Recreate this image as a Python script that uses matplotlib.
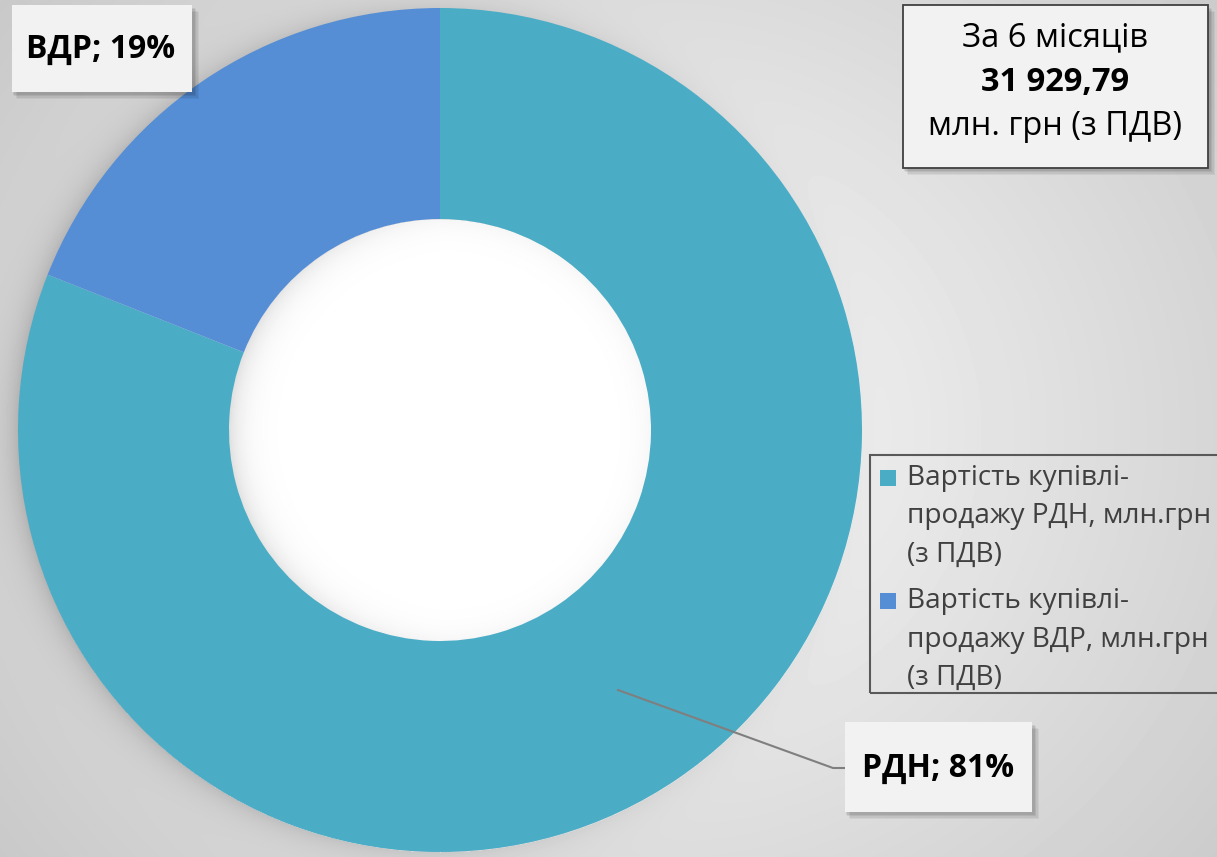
import numpy as np
import matplotlib
matplotlib.use('Agg')
import matplotlib.pyplot as plt
from matplotlib.patches import Rectangle

plt.rcParams['font.family'] = ['Open Sans', 'DejaVu Sans']

# ---- data ----
categories = ['РДН', 'ВДР']
shares = [81, 19]
legend_lines = [['Вартість купівлі-', 'продажу РДН, млн.грн', '(з ПДВ)'],
                ['Вартість купівлі-', 'продажу ВДР, млн.грн', '(з ПДВ)']]
colors = ['#4BACC6', '#558ED5']
period_text = 'За 6 місяців'
total_text = '31 929,79'
unit_text = 'млн. грн (з ПДВ)'

W, H = 1217, 857
fig = plt.figure(figsize=(W / 100, H / 100), dpi=100)
ax = fig.add_axes([0, 0, 1, 1])

def Y(py):
    return H - py

# donut geometry (pixels)
cx, cy = 440, 430
R_out, R_in = 422, 211

# ---- background: radial gradient + soft shadows ----
yy, xx = np.mgrid[0:H, 0:W].astype(float)
d = np.hypot(xx - 640, (yy - 430) * 1.1) / 720
bg = 0.975 - 0.17 * np.clip(d, 0, 1.2)
rr = np.hypot(xx - cx, yy - cy)
th = np.arctan2(-(yy - cy), xx - cx)
side = 0.55 + 0.45 * (-np.cos(th))
outer = np.where(rr > R_out, np.exp(-(rr - R_out) / 14.0), 0) * 0.13 * side
bg = bg - outer
hole = rr < R_in
inner = np.exp(-(R_in - rr) / 14.0) * 0.12 * (0.3 + 0.7 * np.clip(-np.cos(th), 0, 1))
bg = np.where(hole, 1.0 - inner, bg)
ax.imshow(bg, cmap='gray', vmin=0, vmax=1, extent=(0, W, 0, H), origin='upper',
          interpolation='bilinear', zorder=0)

# ---- donut ----
wedges, _ = ax.pie(shares, colors=colors, startangle=90, counterclock=False,
                   center=(cx, Y(cy)), radius=R_out, frame=True,
                   wedgeprops=dict(width=R_out - R_in, edgecolor='none', zorder=2))

ax.set_xlim(0, W)
ax.set_ylim(0, H)
ax.set_aspect('auto')
ax.axis('off')

def shadow_box(x0, y0, x1, y1, fc='#f2f2f2', ec='none', lw=0, z=5):
    for k, a in enumerate([0.05, 0.06, 0.07, 0.08]):
        off = 7 - k * 1.5
        ax.add_patch(Rectangle((x0 + off - 2, Y(y1 + off)), x1 - x0 + 2, y1 - y0,
                               facecolor='black', edgecolor='none', alpha=a, zorder=z - 1))
    ax.add_patch(Rectangle((x0, Y(y1)), x1 - x0, y1 - y0, facecolor=fc,
                           edgecolor=ec, linewidth=lw, zorder=z))

# ---- data labels ----
shadow_box(12, 5, 192, 92)
ax.text(101, Y(49), f'{categories[1]}; {shares[1]}%', ha='center', va='center',
        fontsize=23, fontweight='bold', color='black', zorder=6)

shadow_box(845, 722, 1032, 812)
ax.text(938, Y(768), f'{categories[0]}; {shares[0]}%', ha='center', va='center',
        fontsize=23, fontweight='bold', color='black', zorder=6)
ax.plot([618, 833, 845], [Y(690), Y(768), Y(768)], color='#7f7f7f', lw=1.5, zorder=4)

# ---- total box ----
shadow_box(903, 5, 1208, 168, fc='#f2f2f2', ec='#404040', lw=1.3)
ax.text(1055, Y(38), period_text, ha='center', va='center', fontsize=23.5, zorder=6)
ax.text(1055, Y(82), total_text, ha='center', va='center', fontsize=23.5,
        fontweight='bold', zorder=6)
ax.text(1055, Y(126), unit_text, ha='center', va='center', fontsize=23.5, zorder=6)

# ---- legend (drawn manually so the marker aligns with the first line) ----
ax.add_patch(Rectangle((870, Y(693)), 360, 693 - 455, facecolor='none',
                       edgecolor='#595959', linewidth=1.5, zorder=5))
entry_top = [478, 601]
line_gap = 38.5
for i, (lines, col) in enumerate(zip(legend_lines, colors)):
    y0 = entry_top[i]
    ax.add_patch(Rectangle((880, Y(y0 + 8)), 16, 16, facecolor=col,
                           edgecolor='none', zorder=6))
    for j, ln in enumerate(lines):
        ax.text(907, Y(y0 + j * line_gap), ln, ha='left', va='center',
                fontsize=20.2, color='#404040', zorder=6)

fig.savefig('out.png', dpi=100)
